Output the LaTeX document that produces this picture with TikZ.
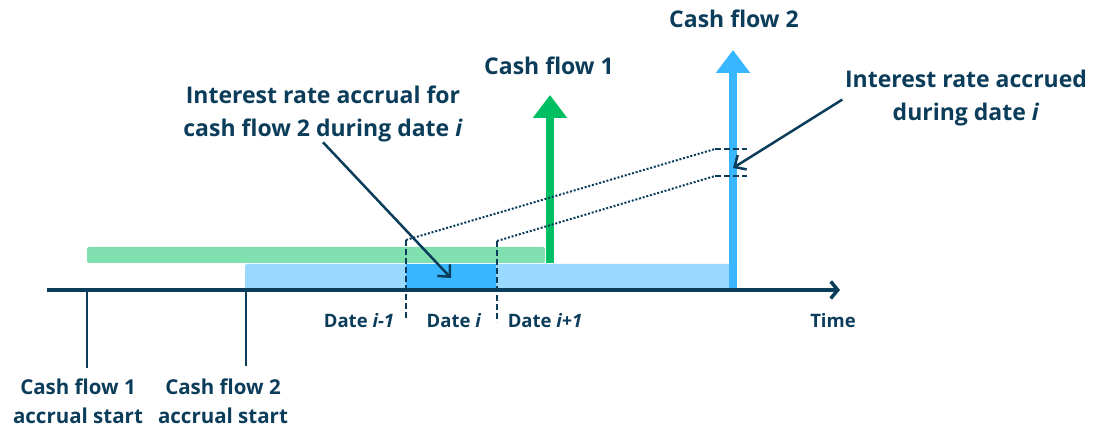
\documentclass[tikz,border=0pt]{standalone}
\usepackage{fontspec}
\setmainfont{Open Sans}
\usetikzlibrary{arrows.meta}
\definecolor{navy}{HTML}{0B3D5B}
\definecolor{cfgreen}{HTML}{00BF63}
\definecolor{cfgreenlt}{HTML}{80E0B0}
\definecolor{cfblue}{HTML}{38B6FF}
\definecolor{cfbluelt}{HTML}{9BD8FF}
\begin{document}
\begin{tikzpicture}[x=1pt,y=-1pt,
  biglbl/.style={text=navy,font=\fontsize{23}{33}\selectfont\bfseries,align=center,inner sep=0pt},
  startlbl/.style={text=navy,font=\fontsize{20.5}{29}\selectfont\bfseries,align=center,inner sep=0pt},
  datelbl/.style={text=navy,font=\fontsize{18.5}{22}\selectfont\bfseries,inner sep=0pt,anchor=base},
  dashline/.style={navy,line width=1.9pt,dash pattern=on 6pt off 3pt},
  dotline/.style={navy,line width=2pt,dash pattern=on 2pt off 1.8pt},
  cfarrow/.style={line width=8pt,-{Triangle[width=33pt,length=23pt]}},
  pointer/.style={navy,line width=2.5pt,-{Straight Barb[length=9pt,width=17pt]}}]
\useasboundingbox (0,0) rectangle (1115,435);
% accrual bars
\fill[cfgreenlt,rounded corners=2pt] (87,247) rectangle (545,263);
\fill[cfbluelt,rounded corners=2pt] (245,264) rectangle (730,291);
\fill[cfblue] (406,264) rectangle (496,291);
% cash flows
\coordinate (cf1base) at (550,263);
\coordinate (cf1tip) at (550,95);
\coordinate (cf2base) at (733,290);
\coordinate (cf2tip) at (733,50);
\draw[cfgreen,cfarrow] (cf1base) -- (cf1tip);
\draw[cfblue,cfarrow] (cf2base) -- (cf2tip);
\node[biglbl,anchor=base] (cf1) at (549,75) {Cash flow 1};
\node[biglbl,anchor=base] (cf2) at (734,28) {Cash flow 2};
% time axis
\coordinate (t0) at (47,290);
\coordinate (t1) at (840,290);
\draw[navy,line width=3.5pt,-{Straight Barb[length=7pt,width=17pt]}] (t0) -- (t1);
\node[datelbl] (time) at (833,327) {Time};
% accrual starts
\coordinate (s1top) at (87,290);
\coordinate (s1bot) at (87,368);
\coordinate (s2top) at (246,290);
\coordinate (s2bot) at (246,366);
\draw[navy,line width=1.8pt] (s1top) -- (s1bot);
\draw[navy,line width=1.8pt] (s2top) -- (s2bot);
\node[startlbl] (start1) at (78,401) {Cash flow 1\\accrual start};
\node[startlbl] (start2) at (223,401) {Cash flow 2\\accrual start};
% dates
\coordinate (d0top) at (406,240);
\coordinate (d0bot) at (406,320);
\coordinate (d1top) at (497,241);
\coordinate (d1bot) at (497,322);
\draw[dashline] (d0top) -- (d0bot);
\draw[dashline] (d1top) -- (d1bot);
\node[datelbl] (dprev) at (359,327) {Date \textit{i-1}};
\node[datelbl] (dcur) at (454,327) {Date \textit{i}};
\node[datelbl] (dnext) at (545,327) {Date \textit{i+1}};
% projection on cash flow 2
\coordinate (r0) at (715,149);
\coordinate (r0e) at (747,149);
\coordinate (r1) at (715,176);
\coordinate (r1e) at (747,176);
\draw[dotline] (d0top) -- (r0);
\draw[dotline] (d1top) -- (r1);
\draw[dashline] (r0) -- (r0e);
\draw[dashline] (r1) -- (r1e);
% annotations
\node[biglbl] (accrual) at (323,114) {Interest rate accrual for\\cash flow 2 during date \textit{i}};
\node[biglbl] (accrued) at (966,98) {Interest rate accrued\\during date \textit{i}};
\coordinate (dcurpt) at (451,278);
\coordinate (cf2pt) at (733,168);
\draw[pointer] (accrual.south) -- (dcurpt);
\draw[pointer,shorten <=3pt] (accrued.west) -- (cf2pt);
\end{tikzpicture}
\end{document}
